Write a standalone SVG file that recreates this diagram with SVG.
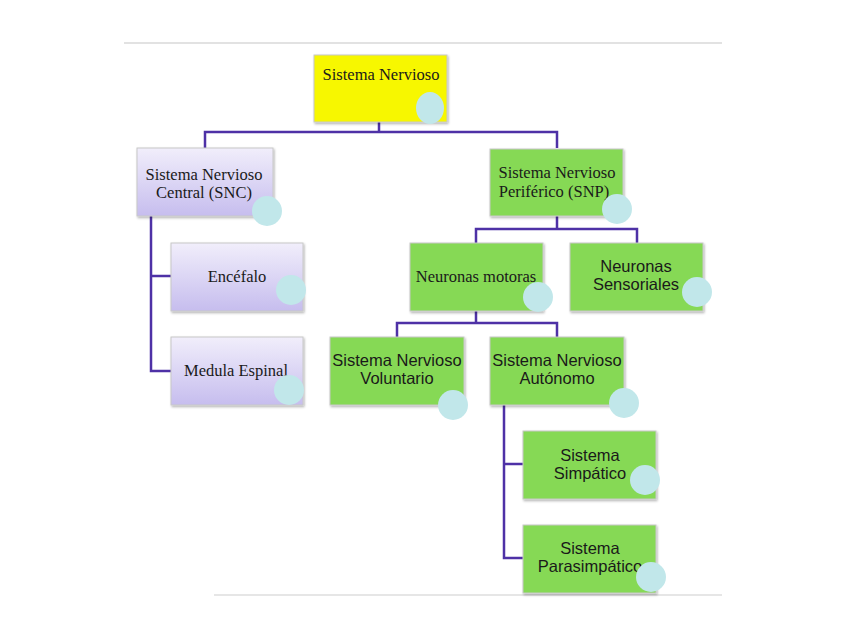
<svg xmlns="http://www.w3.org/2000/svg" width="848" height="636" viewBox="0 0 848 636">
<defs>
<linearGradient id="lav" x1="0" y1="0" x2="0" y2="1">
<stop offset="0" stop-color="#f1eefb"/>
<stop offset="1" stop-color="#c6bdee"/>
</linearGradient>
<filter id="sh" x="-10%" y="-10%" width="125%" height="125%">
<feDropShadow dx="1" dy="1.5" stdDeviation="1" flood-color="#000" flood-opacity="0.3"/>
</filter>
</defs>
<style>
.box{stroke:#c8c8c8;stroke-width:1;filter:url(#sh)}
.y{fill:#f7f700}
.g{fill:#86d955}
.l{fill:url(#lav)}
.dot{fill:#c1e7ea}
.serif{font-family:"Liberation Serif","Times New Roman",serif;font-size:16.5px;fill:#1a1a1a;text-anchor:middle}
.sans{font-family:"Liberation Sans",Arial,sans-serif;font-size:16.5px;fill:#1a1a1a;text-anchor:middle}
.c{fill:none;stroke:#4e31a6;stroke-width:2.5}
</style>
<rect width="848" height="636" fill="#fff"/>
<line x1="124" y1="43" x2="722" y2="43" stroke="#e2e2e2" stroke-width="2"/>
<line x1="214" y1="595" x2="722" y2="595" stroke="#e6e6e6" stroke-width="2"/>
<g id="connectors">
<path class="c" d="M379 122V132M205 148V132H557V148"/>
<path class="c" d="M151 216V371H171M151 276H171"/>
<path class="c" d="M557 216V229M476 243V229H637V243"/>
<path class="c" d="M476 311V323M397 337V323H557V337"/>
<path class="c" d="M504 405V558H523M504 464H523"/>
</g>
<g id="n-sn">
<rect class="box y" x="314" y="55" width="133" height="67"/>
<text class="serif" x="381" y="80">Sistema Nervioso</text>
<ellipse class="dot" cx="430" cy="108" rx="14" ry="16"/>
</g>
<g id="n-snc">
<rect class="box l" x="137" y="148" width="136" height="68"/>
<text class="serif" x="204" y="180">Sistema Nervioso</text>
<text class="serif" x="204" y="198">Central (SNC)</text>
<circle class="dot" cx="267" cy="211" r="15"/>
</g>
<g id="n-encefalo">
<rect class="box l" x="171" y="243" width="132" height="68"/>
<text class="serif" x="237" y="282">Encéfalo</text>
<circle class="dot" cx="291" cy="290" r="15"/>
</g>
<g id="n-medula">
<rect class="box l" x="171" y="337" width="132" height="68"/>
<text class="serif" x="236" y="376">Medula Espinal</text>
<circle class="dot" cx="289" cy="390" r="15"/>
</g>
<g id="n-snp">
<rect class="box g" x="490" y="149" width="133" height="67"/>
<text class="serif" x="557" y="178">Sistema Nervioso</text>
<text class="serif" x="554" y="197">Periférico (SNP)</text>
<circle class="dot" cx="617" cy="209" r="15"/>
</g>
<g id="n-motoras">
<rect class="box g" x="410" y="243" width="133" height="68"/>
<text class="serif" x="476" y="282">Neuronas motoras</text>
<circle class="dot" cx="538" cy="297" r="15"/>
</g>
<g id="n-sensoriales">
<rect class="box g" x="570" y="243" width="133" height="68"/>
<text class="sans" x="636" y="272">Neuronas</text>
<text class="sans" x="636" y="290">Sensoriales</text>
<circle class="dot" cx="697" cy="292" r="15"/>
</g>
<g id="n-voluntario">
<rect class="box g" x="330" y="337" width="134" height="68"/>
<text class="sans" x="397" y="366">Sistema Nervioso</text>
<text class="sans" x="397" y="384">Voluntario</text>
<circle class="dot" cx="453" cy="405" r="15"/>
</g>
<g id="n-autonomo">
<rect class="box g" x="490" y="337" width="134" height="68"/>
<text class="sans" x="557" y="366">Sistema Nervioso</text>
<text class="sans" x="557" y="384">Autónomo</text>
<circle class="dot" cx="624" cy="403" r="15"/>
</g>
<g id="n-simpatico">
<rect class="box g" x="523" y="431" width="133" height="68"/>
<text class="sans" x="590" y="461">Sistema</text>
<text class="sans" x="590" y="479">Simpático</text>
<circle class="dot" cx="645" cy="480" r="15"/>
</g>
<g id="n-parasimpatico">
<rect class="box g" x="523" y="525" width="133" height="68"/>
<text class="sans" x="590" y="554">Sistema</text>
<text class="sans" x="590" y="572">Parasimpático</text>
<circle class="dot" cx="651" cy="577" r="15"/>
</g>
</svg>
